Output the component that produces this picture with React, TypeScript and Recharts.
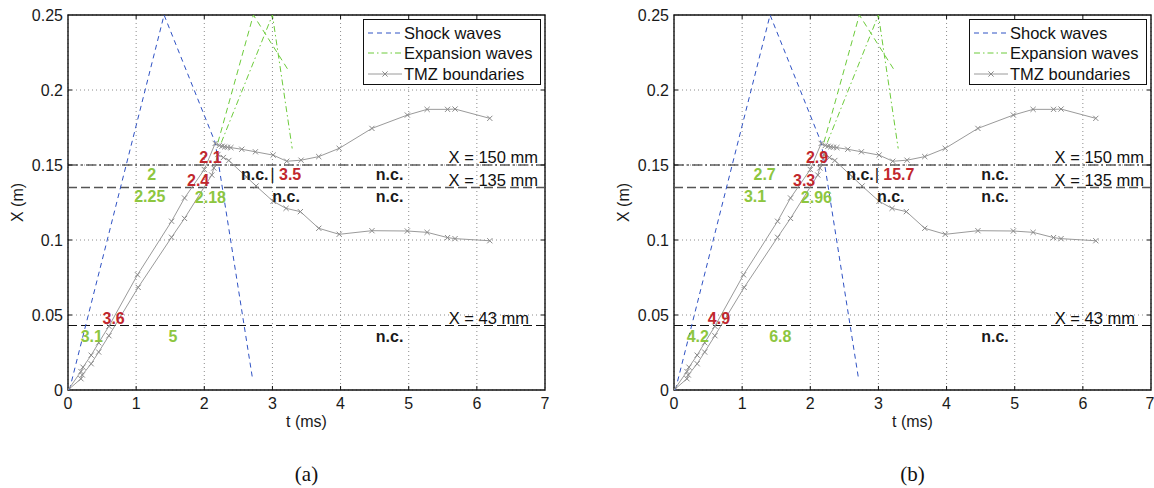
import {
  CartesianGrid,
  ComposedChart,
  Label,
  Line,
  ReferenceArea,
  ReferenceLine,
  Scatter,
  XAxis,
  YAxis,
} from "recharts";

type Pt = { t: number; x: number };
type Note = { t: number; x: number; text: string; kind: "exp" | "shock" | "nc" | "sep" };

const T_TICKS = [0, 1, 2, 3, 4, 5, 6, 7];
const X_TICKS = [0, 0.05, 0.1, 0.15, 0.2, 0.25];

// shock front and its reflections (m vs ms)
const shock: Pt[] = [
  { t: 0.02, x: 0 },
  { t: 1.41, x: 0.25 },
  { t: 2.16, x: 0.165 },
  { t: 2.71, x: 0.007 },
];

const expansionA: Pt[] = [
  { t: 2.2, x: 0.165 },
  { t: 2.72, x: 0.25 },
  { t: 3.25, x: 0.212 },
];

const expansionB: Pt[] = [
  { t: 2.25, x: 0.165 },
  { t: 3.0, x: 0.25 },
  { t: 3.29, x: 0.161 },
];

const tmzUpper: Pt[] = [
  { t: 0, x: 0 },
  { t: 0.19, x: 0.0123 },
  { t: 0.22, x: 0.0152 },
  { t: 0.34, x: 0.0232 },
  { t: 0.45, x: 0.0315 },
  { t: 0.6, x: 0.0425 },
  { t: 1.02, x: 0.0768 },
  { t: 1.52, x: 0.1125 },
  { t: 1.71, x: 0.128 },
  { t: 2.0, x: 0.147 },
  { t: 2.16, x: 0.1644 },
  { t: 2.22, x: 0.163 },
  { t: 2.26, x: 0.1625 },
  { t: 2.3, x: 0.1621 },
  { t: 2.34, x: 0.1618 },
  { t: 2.39, x: 0.1616 },
  { t: 2.55, x: 0.1605 },
  { t: 2.75, x: 0.1588 },
  { t: 3.01, x: 0.1566 },
  { t: 3.21, x: 0.1525 },
  { t: 3.42, x: 0.1532 },
  { t: 3.68, x: 0.1556 },
  { t: 3.98, x: 0.1611 },
  { t: 4.46, x: 0.1744 },
  { t: 4.98, x: 0.1833 },
  { t: 5.27, x: 0.1871 },
  { t: 5.57, x: 0.1871 },
  { t: 5.68, x: 0.1873 },
  { t: 6.19, x: 0.1811 },
];

const tmzLower: Pt[] = [
  { t: 0, x: 0 },
  { t: 0.19, x: 0.0075 },
  { t: 0.21, x: 0.01 },
  { t: 0.34, x: 0.0175 },
  { t: 0.45, x: 0.0253 },
  { t: 0.6, x: 0.0362 },
  { t: 1.03, x: 0.0684 },
  { t: 1.52, x: 0.1018 },
  { t: 1.71, x: 0.1144 },
  { t: 2.11, x: 0.1433 },
  { t: 2.14, x: 0.148 },
  { t: 2.2, x: 0.157 },
  { t: 2.28, x: 0.155 },
  { t: 2.36, x: 0.153 },
  { t: 2.62, x: 0.142 },
  { t: 2.76, x: 0.136 },
  { t: 3.01, x: 0.1258 },
  { t: 3.2, x: 0.1211 },
  { t: 3.41, x: 0.1189 },
  { t: 3.68, x: 0.1078 },
  { t: 3.98, x: 0.1038 },
  { t: 4.46, x: 0.1062 },
  { t: 4.98, x: 0.106 },
  { t: 5.27, x: 0.1051 },
  { t: 5.57, x: 0.1016 },
  { t: 5.68, x: 0.1009 },
  { t: 6.19, x: 0.0995 },
];

const LEVELS = [0.15, 0.135, 0.043];
const LEVEL_TEXT = ["X = 150 mm", "X = 135 mm", "X = 43 mm"];

const LEGEND_NAMES = ["Shock waves", "Expansion waves", "TMZ boundaries"];

const notesA: Note[] = [
  { t: 1.23, x: 0.144, text: "2", kind: "exp" },
  { t: 1.2, x: 0.129, text: "2.25", kind: "exp" },
  { t: 2.09, x: 0.155, text: "2.1", kind: "shock" },
  { t: 1.91, x: 0.1395, text: "2.4", kind: "shock" },
  { t: 2.09, x: 0.1285, text: "2.18", kind: "exp" },
  { t: 2.74, x: 0.144, text: "n.c.", kind: "nc" },
  { t: 3.0, x: 0.144, text: "|", kind: "sep" },
  { t: 3.26, x: 0.144, text: "3.5", kind: "shock" },
  { t: 3.2, x: 0.129, text: "n.c.", kind: "nc" },
  { t: 4.72, x: 0.144, text: "n.c.", kind: "nc" },
  { t: 4.72, x: 0.129, text: "n.c.", kind: "nc" },
  { t: 0.67, x: 0.0475, text: "3.6", kind: "shock" },
  { t: 0.35, x: 0.0359, text: "3.1", kind: "exp" },
  { t: 1.54, x: 0.0359, text: "5", kind: "exp" },
  { t: 4.72, x: 0.0359, text: "n.c.", kind: "nc" },
];

const notesB: Note[] = [
  { t: 1.33, x: 0.144, text: "2.7", kind: "exp" },
  { t: 1.19, x: 0.129, text: "3.1", kind: "exp" },
  { t: 2.1, x: 0.155, text: "2.9", kind: "shock" },
  { t: 1.91, x: 0.1395, text: "3.3", kind: "shock" },
  { t: 2.09, x: 0.1285, text: "2.96", kind: "exp" },
  { t: 2.73, x: 0.144, text: "n.c.", kind: "nc" },
  { t: 2.98, x: 0.144, text: "|", kind: "sep" },
  { t: 3.3, x: 0.144, text: "15.7", kind: "shock" },
  { t: 3.18, x: 0.129, text: "n.c.", kind: "nc" },
  { t: 4.71, x: 0.144, text: "n.c.", kind: "nc" },
  { t: 4.71, x: 0.129, text: "n.c.", kind: "nc" },
  { t: 0.66, x: 0.0475, text: "4.9", kind: "shock" },
  { t: 0.35, x: 0.0359, text: "4.2", kind: "exp" },
  { t: 1.56, x: 0.0359, text: "6.8", kind: "exp" },
  { t: 4.71, x: 0.0359, text: "n.c.", kind: "nc" },
];

const FONT = "'Liberation Sans', Arial, Helvetica, sans-serif";
const BLUE = "#2f52c4";
const GREEN = "#6ccb3a";
const GRAY = "#9a9a9a";
const NOTE_COLOR = { exp: "#8dc63f", shock: "#c1272d", nc: "#1a1a1a", sep: "#1a1a1a" };

const PLOT_LEFT = 68;
const PLOT_W = 477;
const PLOT_H = 375;
const T_MAX = 7;
const X_MAX = 0.25;
// inward tick length, 4 px, expressed in axis units
const TICK_T = (4 / PLOT_W) * T_MAX;
const TICK_X = (4 / PLOT_H) * X_MAX;

function Cross(props: any) {
  const { cx, cy, index } = props;
  if (cx == null || cy == null) return <g key={index} />;
  const s = 2.6;
  return (
    <path
      key={index}
      d={`M${cx - s},${cy - s}L${cx + s},${cy + s}M${cx - s},${cy + s}L${cx + s},${cy - s}`}
      stroke="#8a8a8a"
      strokeWidth={1}
    />
  );
}

function NoteShape(props: any) {
  const { cx, cy, payload } = props;
  const n = payload as Note;
  return (
    <text
      x={cx}
      y={cy}
      textAnchor="middle"
      dominantBaseline="central"
      fontFamily={FONT}
      fontSize={n.kind === "sep" ? 17 : 16}
      fontWeight={n.kind === "sep" ? 400 : 700}
      fill={NOTE_COLOR[n.kind]}
    >
      {n.text}
    </text>
  );
}

function LevelLabel(props: any) {
  const { viewBox, text, inset } = props;
  if (!viewBox) return null;
  return (
    <text
      x={viewBox.x + viewBox.width - inset}
      y={viewBox.y - 2}
      textAnchor="end"
      fontFamily={FONT}
      fontSize={16.5}
      fill="#111"
    >
      {text}
    </text>
  );
}

function LegendBox() {
  const rowY = [14, 34, 55];
  return (
    <svg
      width={178}
      height={66}
      style={{ position: "absolute", left: PLOT_LEFT + 295, top: 19 }}
    >
      <rect x={0.5} y={0.5} width={177} height={65} fill="#fff" stroke="#111" strokeWidth={1} />
      <line x1={5} x2={39} y1={rowY[0]} y2={rowY[0]} stroke={BLUE} strokeDasharray="5 4" />
      <line x1={5} x2={39} y1={rowY[1]} y2={rowY[1]} stroke={GREEN} strokeDasharray="6 3 1.5 3" />
      <line x1={5} x2={39} y1={rowY[2]} y2={rowY[2]} stroke={GRAY} />
      <Cross cx={22} cy={rowY[2]} index={0} />
      {LEGEND_NAMES.map((n, i) => (
        <text key={n} x={41} y={rowY[i]} dominantBaseline="central" fontFamily={FONT} fontSize={16.5} fill="#111">
          {n}
        </text>
      ))}
    </svg>
  );
}

function Panel({ notes, caption, left, width }: { notes: Note[]; caption: string; left: number; width: number }) {
  return (
    <div style={{ position: "absolute", left, top: 0, width, height: 488 }}>
      <ComposedChart
        width={width}
        height={488}
        margin={{ top: 15, right: width - PLOT_LEFT - PLOT_W, bottom: 61, left: 0 }}
      >
        <CartesianGrid stroke="#8c8c8c" strokeDasharray="1 3" />
        <XAxis
          type="number"
          dataKey="t"
          domain={[0, T_MAX]}
          ticks={T_TICKS}
          axisLine={false}
          tickLine={false}
          height={37}
          tick={{ fontSize: 16, fill: "#1a1a1a", fontFamily: FONT }}
          allowDataOverflow
        >
          <Label value="t (ms)" position="insideBottom" offset={0} fontSize={16} fill="#1a1a1a" fontFamily={FONT} />
        </XAxis>
        <YAxis
          type="number"
          domain={[0, X_MAX]}
          ticks={X_TICKS}
          axisLine={false}
          tickLine={false}
          tickSize={5}
          tickMargin={0}
          width={PLOT_LEFT}
          tick={{ fontSize: 16, fill: "#1a1a1a", fontFamily: FONT }}
          allowDataOverflow
        >
          <Label
            value="X (m)"
            angle={-90}
            position="insideLeft"
            offset={17}
            fontSize={16}
            fill="#1a1a1a"
            fontFamily={FONT}
            style={{ textAnchor: "middle" }}
          />
        </YAxis>
        <ReferenceLine y={LEVELS[0]} stroke="#111" strokeWidth={1.1} strokeDasharray="10 3 2 3" label={<LevelLabel text={LEVEL_TEXT[0]} inset={7} />} />
        <ReferenceLine y={LEVELS[1]} stroke="#555" strokeWidth={1.3} strokeDasharray="9 4" label={<LevelLabel text={LEVEL_TEXT[1]} inset={7} />} />
        <ReferenceLine y={LEVELS[2]} stroke="#111" strokeWidth={1.1} strokeDasharray="9 4" label={<LevelLabel text={LEVEL_TEXT[2]} inset={16} />} />
        {T_TICKS.slice(1, -1).map((t) => (
          <ReferenceLine key={`tb${t}`} segment={[{ x: t, y: 0 }, { x: t, y: TICK_X }]} stroke="#111" strokeWidth={1} />
        ))}
        {T_TICKS.slice(1, -1).map((t) => (
          <ReferenceLine key={`tt${t}`} segment={[{ x: t, y: X_MAX - TICK_X }, { x: t, y: X_MAX }]} stroke="#111" strokeWidth={1} />
        ))}
        {X_TICKS.slice(1, -1).map((v) => (
          <ReferenceLine key={`xl${v}`} segment={[{ x: 0, y: v }, { x: TICK_T, y: v }]} stroke="#111" strokeWidth={1} />
        ))}
        {X_TICKS.slice(1, -1).map((v) => (
          <ReferenceLine key={`xr${v}`} segment={[{ x: T_MAX - TICK_T, y: v }, { x: T_MAX, y: v }]} stroke="#111" strokeWidth={1} />
        ))}
        <Line data={shock} dataKey="x" stroke={BLUE} strokeWidth={1} strokeDasharray="5 4" dot={false} activeDot={false} isAnimationActive={false} />
        <Line data={expansionA} dataKey="x" stroke={GREEN} strokeWidth={1} strokeDasharray="6 4" dot={false} activeDot={false} isAnimationActive={false} />
        <Line data={expansionB} dataKey="x" stroke={GREEN} strokeWidth={1} strokeDasharray="6 3 1.5 3" dot={false} activeDot={false} isAnimationActive={false} />
        <Line data={tmzUpper} dataKey="x" stroke={GRAY} strokeWidth={1} dot={<Cross />} activeDot={false} isAnimationActive={false} />
        <Line data={tmzLower} dataKey="x" stroke={GRAY} strokeWidth={1} dot={<Cross />} activeDot={false} isAnimationActive={false} />
        <Scatter data={notes} dataKey="x" shape={NoteShape} isAnimationActive={false} />
        <ReferenceArea x1={0} x2={T_MAX} y1={0} y2={X_MAX} fill="none" stroke="#111" strokeWidth={1.4} fillOpacity={0} />
      </ComposedChart>
      <LegendBox />
      <div
        style={{
          position: "absolute",
          left: PLOT_LEFT,
          width: PLOT_W,
          top: 462,
          textAlign: "center",
          fontFamily: "'Liberation Serif', 'Times New Roman', serif",
          fontSize: 21,
          color: "#111",
        }}
      >
        {caption}
      </div>
    </div>
  );
}

export default function App() {
  return (
    <div style={{ position: "absolute", left: 0, top: 0, width: 1154, height: 488, overflow: "hidden", background: "#fff" }}>
      <Panel notes={notesA} caption="(a)" left={0} width={580} />
      <Panel notes={notesB} caption="(b)" left={606} width={548} />
    </div>
  );
}
